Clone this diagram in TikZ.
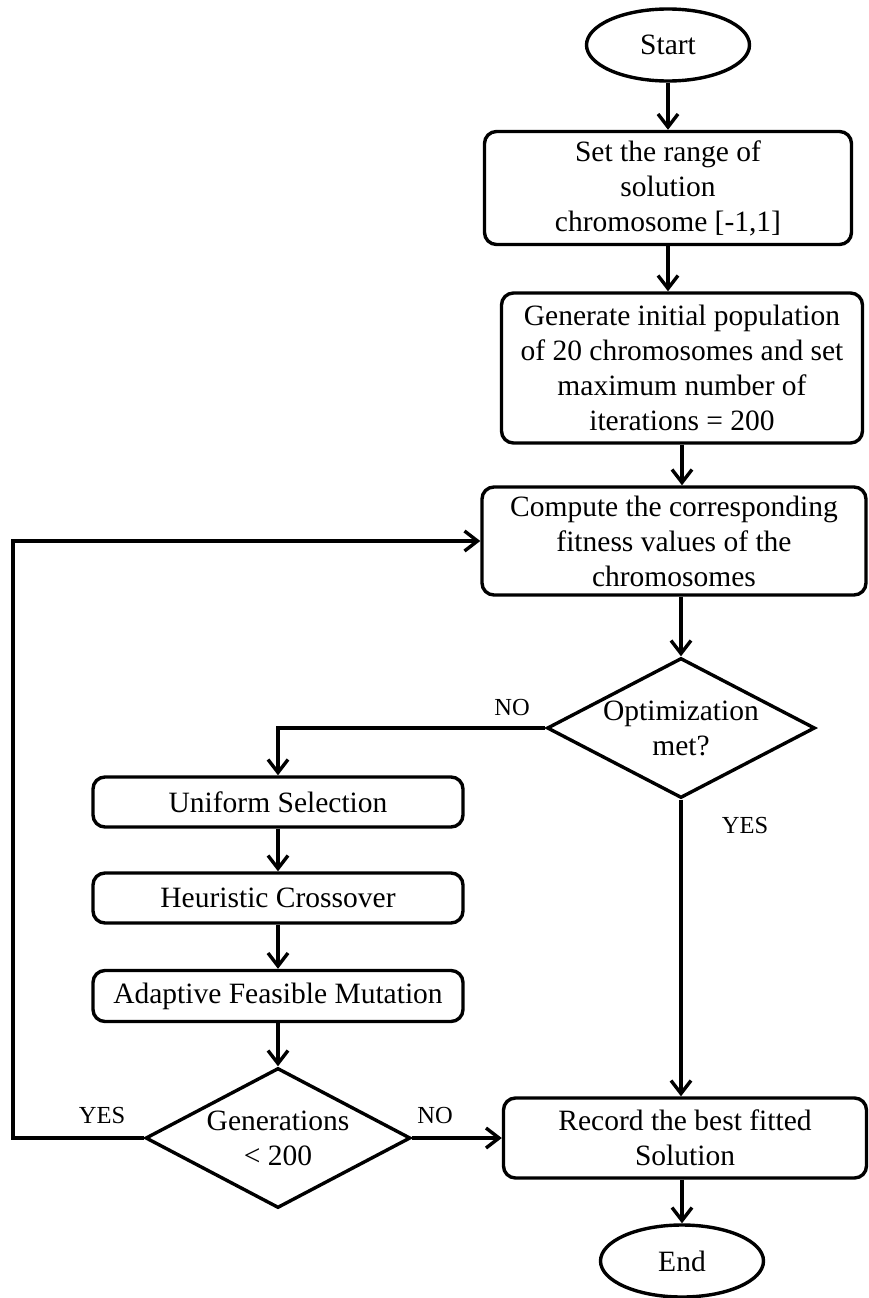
\documentclass[tikz,border=0pt]{standalone}
\usepackage{fontspec}
\setmainfont{Liberation Serif}
\usetikzlibrary{shapes.geometric,arrows.meta}

\begin{document}
\begin{tikzpicture}[x=1pt, y=-1pt, >={Straight Barb[length=13pt,width=20pt]}, line width=3.4pt,
	every node/.style={font=\fontsize{29.5}{35}\selectfont},
	box/.style={draw, rounded corners=12pt, align=center, inner sep=0pt},
	term/.style={draw, ellipse, inner sep=0pt, minimum width=163pt, minimum height=72pt},
	decide/.style={draw, diamond, aspect=1.9, align=center, inner sep=-3pt},
	lbl/.style={font=\fontsize{24.5}{28}\selectfont}]
\useasboundingbox (0,0) rectangle (869,1298);
% main column
\node[term] (start) at (668,45) {Start};
\node[box, minimum width=367pt, minimum height=113pt] (range) at (668,188) {Set the range of\\ solution\\ chromosome [-1,1]};
\node[box, minimum width=361pt, minimum height=150pt] (init) at (682,368) {Generate initial population\\ of 20 chromosomes and set\\ maximum number of\\ iterations = 200};
\node[box, minimum width=384pt, minimum height=108pt] (fitness) at (674,541) {Compute the corresponding\\ fitness values of the\\ chromosomes};
\node[decide, minimum width=268pt, minimum height=140pt] (opt) at (681,728) {Optimization\\ met?};
\node[box, minimum width=363pt, minimum height=80pt] (record) at (685,1138) {Record the best fitted\\ Solution};
\node[term] (end) at (682,1261) {End};
% GA operators
\node[box, minimum width=370pt, minimum height=50pt] (select) at (278,802) {Uniform Selection};
\node[box, minimum width=370pt, minimum height=50pt] (cross) at (278,898) {Heuristic Crossover};
\node[box, minimum width=370pt, minimum height=51pt] (mutate) at (278,996) {Adaptive Feasible Mutation};
\node[decide, minimum width=265pt, minimum height=140pt] (gens) at (278,1138) {Generations\\ < 200};
\coordinate (back) at (13,1138);

\draw[->] (start) -- (range);
\draw[->] (range) -- (range |- init.north);
\draw[->] (init) -- (init |- fitness.north);
\draw[->] (fitness.south -| opt) -- (opt);
\draw[->] (opt) -| (select);
\draw[->] (opt) -- (opt |- record.north);
\draw[->] (select) -- (cross);
\draw[->] (cross) -- (mutate);
\draw[->] (mutate) -- (gens);
\draw[->] (gens) -- (record);
\draw[->] (gens) -- (back) |- (fitness);
\draw[->] (record.south -| end) -- (end);

\node[lbl] (optno) at (512,708) {NO};
\node[lbl] (optyes) at (745,825) {YES};
\node[lbl] (genyes) at (102,1115) {YES};
\node[lbl] (genno) at (435,1115) {NO};
\end{tikzpicture}
\end{document}
